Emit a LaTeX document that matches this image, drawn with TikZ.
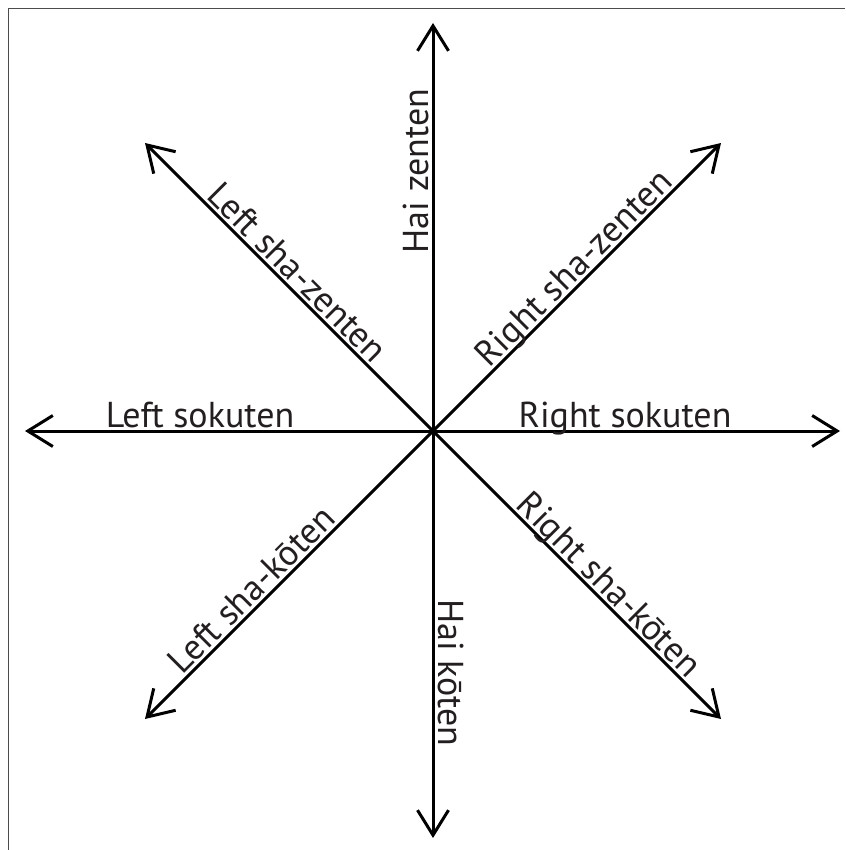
\documentclass[tikz,border=0pt]{standalone}
\usepackage{fontspec}
\setmainfont{PT Sans}
\usetikzlibrary{arrows.meta}
\definecolor{txt}{HTML}{231F20}
\begin{document}
\begin{tikzpicture}[x=1pt,y=-1pt,
  axis/.style={line width=3pt,black,-{Straight Barb[length=25pt,width=31pt]}},
  lbl/.style={font=\fontsize{36}{40}\selectfont,text=txt,inner sep=0pt,anchor=base},
  frameline/.style={line width=1pt,draw=black!70}]
\useasboundingbox (0,0) rectangle (845,850);
\draw[frameline] (8.5,850) -- (8.5,8.5) -- (845,8.5);
\coordinate (C) at (433,431);
\coordinate (N) at (433,23);
\coordinate (S) at (433,838);
\coordinate (W) at (25,431);
\coordinate (E) at (840,431);
\coordinate (NW) at (145,143);
\coordinate (NE) at (721,143);
\coordinate (SW) at (145,719);
\coordinate (SE) at (721,719);
\foreach \t in {N,S,W,E,NW,NE,SW,SE} \draw[axis] (C) -- (\t);
\node[lbl] (ls) at (200,427) {Left sokuten};
\node[lbl] (rs) at (625,427) {Right sokuten};
\node[lbl,rotate=90] (hz) at (428,171) {Hai zenten};
\node[lbl,rotate=-90] (hk) at (438,673) {Hai kōten};
\node[lbl,rotate=-45] (lsz) at (289,281) {Left sha-zenten};
\node[lbl,rotate=45] (rsz) at (582,276) {Right sha-zenten};
\node[lbl,rotate=45] (lsk) at (260,598) {Left sha-kōten};
\node[lbl,rotate=-45] (rsk) at (601,593) {Right sha-kōten};
\end{tikzpicture}
\end{document}
